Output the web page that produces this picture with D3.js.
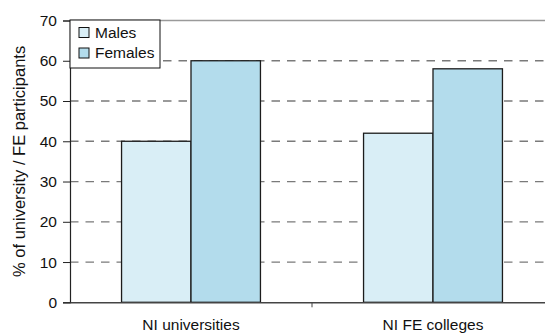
<!DOCTYPE html>
<html>
<head>
<meta charset="utf-8">
<script src="https://cdn.jsdelivr.net/npm/d3@7"></script>
<style>
  html, body { margin: 0; padding: 0; background: #fff; }
  svg { display: block; font-family: "Liberation Sans", Arial, sans-serif; }
</style>
</head>
<body>
<svg id="chart" width="545" height="334"></svg>
<script>
// Participation by gender, NI universities vs NI FE colleges
const categories = ["NI universities", "NI FE colleges"];
const seriesNames = ["Males", "Females"];
const males = [40, 42];
const females = [60, 58];
const yTicks = [0, 10, 20, 30, 40, 50, 60, 70];

const colors = { Males: "#d9eef6", Females: "#b3dcec" };

const svg = d3.select("#chart");
const plotLeft = 70, plotRight = 554, plotTop = 20.5, plotBottom = 302.3;

const x = d3.scaleBand().domain(categories).range([plotLeft, plotRight])
  .paddingInner(0.426).paddingOuter(0.213);
const xs = d3.scaleBand().domain(seriesNames).range([0, x.bandwidth()]);
const y = d3.scaleLinear().domain([0, 70]).range([plotBottom, plotTop]);

// gridlines
svg.append("g").selectAll("line")
  .data(yTicks.filter(d => d > 0))
  .join("line")
  .attr("x1", plotLeft).attr("x2", plotRight)
  .attr("y1", d => y(d)).attr("y2", d => y(d))
  .attr("stroke", d => d === 70 ? "#9a9a9a" : "#7a7a7a")
  .attr("stroke-width", d => d === 70 ? 1.6 : 1.3)
  .attr("stroke-dasharray", d => d === 70 ? null : "8.5,7");

// bars
const rows = categories.map((c, i) => ({ cat: c, Males: males[i], Females: females[i] }));
svg.append("g").selectAll("g")
  .data(rows)
  .join("g")
  .attr("transform", d => `translate(${x(d.cat)},0)`)
  .selectAll("rect")
  .data(d => seriesNames.map(s => ({ s, v: d[s] })))
  .join("rect")
  .attr("x", d => xs(d.s))
  .attr("width", xs.bandwidth())
  .attr("y", d => y(d.v))
  .attr("height", d => y(0) - y(d.v))
  .attr("fill", d => colors[d.s])
  .attr("stroke", "#1c1c1c")
  .attr("stroke-width", 1.3);

// y axis
const yAxis = d3.axisLeft(y).tickValues(yTicks).tickSize(7).tickPadding(6);
const gy = svg.append("g").attr("transform", `translate(${plotLeft},0)`).call(yAxis);
gy.select(".domain").attr("stroke", "#222").attr("stroke-width", 1.2);
gy.selectAll(".tick line").attr("stroke", "#222");
gy.selectAll(".tick text").attr("font-size", "15.5px").attr("fill", "#111")
  .attr("font-family", "Liberation Sans, Arial, sans-serif");

// x axis
const xAxis = d3.axisBottom(x).tickSize(0).tickPadding(17);
const gx = svg.append("g").attr("transform", `translate(0,${plotBottom})`).call(xAxis);
gx.select(".domain").attr("stroke", "#444").attr("stroke-width", 1.5);
gx.selectAll(".tick text").attr("font-size", "15.5px").attr("fill", "#111")
  .attr("font-family", "Liberation Sans, Arial, sans-serif");
// category divider ticks
gx.append("g").selectAll("line")
  .data(categories.slice(1))
  .join("line")
  .attr("x1", d => x(d) - x.step() * x.paddingInner() / 2)
  .attr("x2", d => x(d) - x.step() * x.paddingInner() / 2)
  .attr("y1", 0).attr("y2", 5)
  .attr("stroke", "#444");

// y axis title
svg.append("text")
  .attr("transform", `translate(25,${(plotTop + plotBottom) / 2}) rotate(-90)`)
  .attr("text-anchor", "middle")
  .attr("font-size", "16.5px")
  .attr("fill", "#111")
  .text("% of university / FE participants");

// legend
const lg = svg.append("g");
lg.append("rect").attr("x", plotLeft).attr("y", plotTop - 0.5).attr("width", 90).attr("height", 48)
  .attr("fill", "#fff").attr("stroke", "#111").attr("stroke-width", 1);
const items = lg.selectAll("g.item").data(seriesNames).join("g")
  .attr("transform", (d, i) => `translate(${plotLeft + 9},${plotTop + 7 + i * 20.5})`);
items.append("rect").attr("width", 10).attr("height", 10)
  .attr("fill", d => colors[d]).attr("stroke", "#111").attr("stroke-width", 1);
items.append("text").attr("x", 16).attr("y", 5).attr("dy", "0.35em")
  .attr("font-size", "15.5px").attr("fill", "#111").text(d => d);
</script>
</body>
</html>
